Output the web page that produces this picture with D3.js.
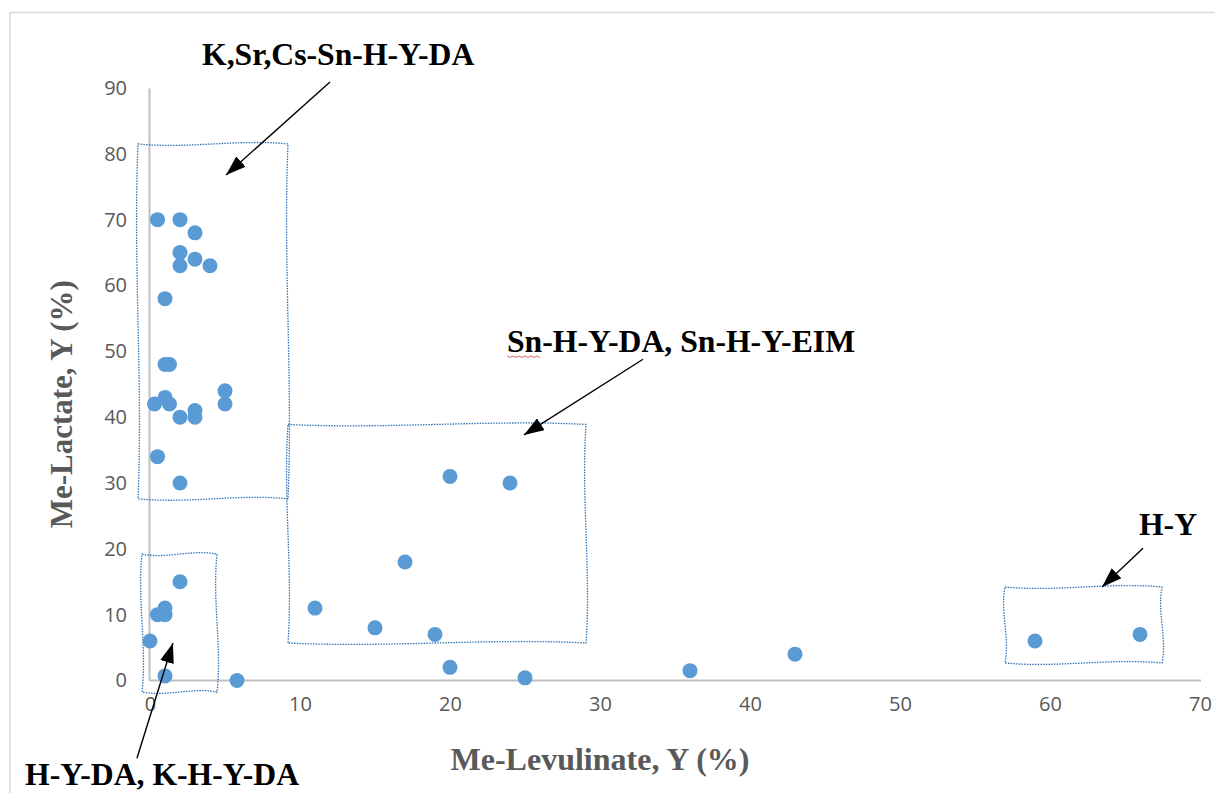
<!DOCTYPE html>
<html>
<head>
<meta charset="utf-8">
<script src="https://cdn.jsdelivr.net/npm/d3@7"></script>
<style>
  body { margin: 0; background: #fff; }
  svg { display: block; }
</style>
</head>
<body>
<div id="chart"></div>
<script>
// data: Me-Levulinate (x) vs Me-Lactate (y), yields in %
const levulinate = [0.5, 2, 3, 2, 3, 2, 4, 1, 1, 1.3, 5, 5, 0.3, 1, 1.3, 2, 3, 3, 0.5, 2,
                    2, 1, 0.5, 1, 0, 1, 5.8,
                    11, 15, 17, 19, 20, 24,
                    20, 25, 36, 43, 59, 66]
const lactate    = [70, 70, 68, 65, 64, 63, 63, 58, 48, 48, 44, 42, 42, 43, 42, 40, 41, 40, 34, 30,
                    15, 11, 10, 10, 6, 0.7, 0,
                    11, 8, 18, 7, 31, 30,
                    2, 0.4, 1.5, 4, 6, 7]
const xTicks = [0, 10, 20, 30, 40, 50, 60, 70]
const yTicks = [0, 10, 20, 30, 40, 50, 60, 70, 80, 90]

// annotation groups (data units): box [x0, x1, y0, y1], arrow [from, to], label position
const groupNames = ["K,Sr,Cs-Sn-H-Y-DA", "H-Y-DA, K-H-Y-DA", "Sn-H-Y-DA, Sn-H-Y-EIM", "H-Y"]
const groupBoxes = [[-0.8, 9.2, 27.6, 81.5], [-0.53, 4.47, -1.75, 19.2], [9.2, 29.07, 5.7, 38.9], [57, 67.47, 2.66, 14.2]]
const groupArrows = [[[12, 90.9], [5.07, 76.8]], [[-0.87, -11.8], [1.53, 5.7]], [[32.87, 48.8], [24.93, 37.3]], [[66.2, 20.1], [63.47, 14.2]]]
const groupLabels = [[3.47, 93.5], [-8.33, -15.9], [23.8, 49.9], [65.93, 22.1]]

const W = 1215, H = 793
const x = d3.scaleLinear().domain([0, 70]).range([150, 1200])
const y = d3.scaleLinear().domain([0, 90]).range([680.5, 88])

const svg = d3.select("#chart").append("svg")
    .attr("width", W)
    .attr("height", H)

// chart area border
svg.append("rect")
    .attr("x", 10).attr("y", 12.5)
    .attr("width", W + 20).attr("height", H + 20)
    .attr("fill", "none")
    .attr("stroke", "#d9d9d9")
    .attr("stroke-width", 1.5)

// axes
const xAxis = svg.append("g")
    .attr("transform", `translate(0,${y(0)})`)
    .call(d3.axisBottom(x).tickValues(xTicks).tickSize(0).tickPadding(16))
const yAxis = svg.append("g")
    .attr("transform", `translate(${x(0) - 1},0)`)
    .call(d3.axisLeft(y).tickValues(yTicks).tickSize(0).tickPadding(22))

for (const g of [xAxis, yAxis]) {
    g.select(".domain").attr("stroke", "#bfbfbf").attr("stroke-width", 2)
    g.selectAll("text")
        .attr("fill", "#595959")
        .attr("font-family", "'Open Sans', sans-serif")
        .attr("font-size", 20)
}
xAxis.select(".domain").attr("d", `M${x(0)},0H${x(70) + 1}`)

// axis titles
svg.append("text")
    .attr("x", x(30))
    .attr("y", 770)
    .attr("text-anchor", "middle")
    .attr("font-family", "'Liberation Serif', 'Times New Roman', serif")
    .attr("font-weight", "bold")
    .attr("font-size", 32)
    .attr("fill", "#595959")
    .text("Me-Levulinate, Y (%)")

svg.append("text")
    .attr("transform", `translate(72,${(y(0) + y(90)) / 2 + 20}) rotate(-90)`)
    .attr("text-anchor", "middle")
    .attr("font-family", "'Liberation Serif', 'Times New Roman', serif")
    .attr("font-weight", "bold")
    .attr("font-size", 31)
    .attr("fill", "#595959")
    .text("Me-Lactate, Y (%)")

// wavy dotted boxes round the groups
function wavyBox(b, amp) {
    const x0 = x(b[0]), x1 = x(b[1]), y0 = y(b[3]), y1 = y(b[2])
    const p = d3.path()
    const w = x1 - x0, h = y1 - y0
    p.moveTo(x0, y0)
    p.bezierCurveTo(x0 + w / 3, y0 + amp, x0 + 2 * w / 3, y0 - amp, x1, y0)
    p.bezierCurveTo(x1 - amp, y0 + h / 3, x1 + amp, y0 + 2 * h / 3, x1, y1)
    p.bezierCurveTo(x1 - w / 3, y1 - amp, x0 + w / 3, y1 + amp, x0, y1)
    p.bezierCurveTo(x0 + amp, y1 - h / 3, x0 - amp, y0 + h / 3, x0, y0)
    p.closePath()
    return p.toString()
}

svg.selectAll(".box")
    .data(groupBoxes)
    .join("path")
    .attr("class", "box")
    .attr("d", d => wavyBox(d, 5))
    .attr("fill", "none")
    .attr("stroke", "#2e75b6")
    .attr("stroke-width", 1.3)
    .attr("stroke-dasharray", "1.5,1.2")

// points
svg.append("g")
    .selectAll("circle")
    .data(levulinate.map((v, i) => [v, lactate[i]]))
    .join("circle")
    .attr("cx", d => x(d[0]))
    .attr("cy", d => y(d[1]))
    .attr("r", 7.5)
    .attr("fill", "#5b9bd5")

// arrows
svg.append("defs").append("marker")
    .attr("id", "head")
    .attr("viewBox", "0 0 20 14")
    .attr("refX", 20).attr("refY", 7)
    .attr("markerWidth", 20).attr("markerHeight", 14)
    .attr("markerUnits", "userSpaceOnUse")
    .attr("orient", "auto")
    .append("path")
    .attr("d", "M0,0L20,7L0,14Z")
    .attr("fill", "#000")

svg.selectAll(".arrow")
    .data(groupArrows)
    .join("line")
    .attr("class", "arrow")
    .attr("x1", d => x(d[0][0])).attr("y1", d => y(d[0][1]))
    .attr("x2", d => x(d[1][0])).attr("y2", d => y(d[1][1]))
    .attr("stroke", "#000")
    .attr("stroke-width", 1.4)
    .attr("marker-end", "url(#head)")

// group labels
svg.selectAll(".label")
    .data(groupNames)
    .join("text")
    .attr("class", "label")
    .attr("x", (d, i) => x(groupLabels[i][0]))
    .attr("y", (d, i) => y(groupLabels[i][1]))
    .attr("font-family", "'Liberation Serif', 'Times New Roman', serif")
    .attr("font-weight", "bold")
    .attr("font-size", 31.7)
    .attr("fill", "#000")
    .text(d => d)

// spell-check squiggle under "Sn"
const sq = groupLabels[2]
const sqx = x(sq[0]), sqy = y(sq[1]) + 4
svg.append("path")
    .attr("d", d3.range(0, 36, 3).map((d, i) => (i ? "L" : "M") + (sqx + d) + "," + (sqy + (i % 2 ? 1.5 : 0))).join(""))
    .attr("fill", "none")
    .attr("stroke", "#e06666")
    .attr("stroke-width", 1)
</script>
</body>
</html>
